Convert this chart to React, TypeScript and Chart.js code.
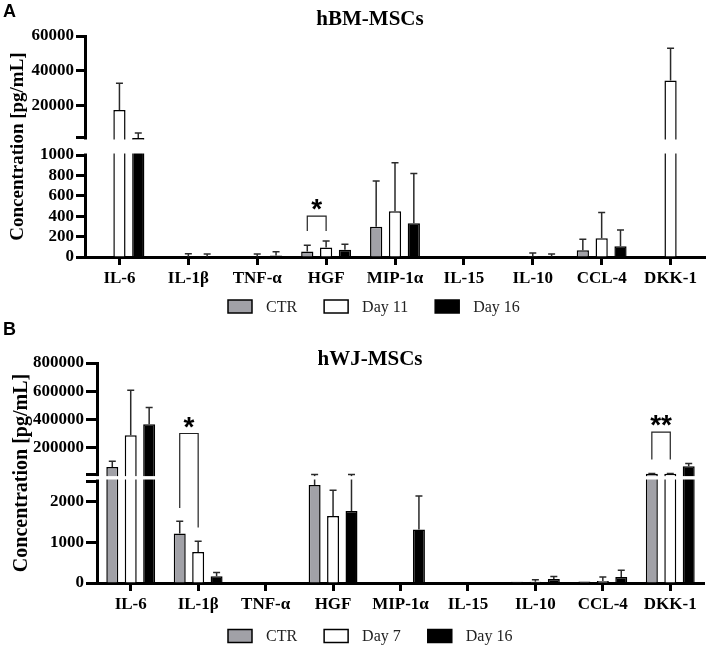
import React, { useEffect, useRef } from 'react';
import { Chart, registerables, LinearScale } from 'chart.js';

const cytokines = ['IL-6', 'IL-1β', 'TNF-α', 'HGF', 'MIP-1α', 'IL-15', 'IL-10', 'CCL-4', 'DKK-1'];

// panel A - hBM-MSCs
const bmCtr = [0, 0, 0, 53, 297, 0, 0, 67, 0];
const bmCtrSd = [0, 0, 0, 63, 448, 0, 0, 106, 0];
const bmDay11 = [17700, 3, 3, 92, 449, 0, 8, 183, 34500];
const bmDay11Sd = [15300, 28, 27, 66, 475, 0, 32, 253, 18500];
const bmDay16 = [1750, 3, 15, 72, 330, 0, 4, 106, 0];
const bmDay16Sd = [2800, 27, 37, 54, 489, 0, 26, 159, 0];
const bmTickValues = [0, 200, 400, 600, 800, 1000, 1700, 20000, 40000, 60000];
const bmTickLabels = ['0', '200', '400', '600', '800', '1000', '', '20000', '40000', '60000'];
const bmSig = [{ cat: 'HGF', from: 0, to: 1, top: 400, ends: [255, 255], mark: '*' }];

// panel B - hWJ-MSCs
const wjCtr = [62400, 1211, 0, 2400, 0, 0, 30, 35, 15000];
const wjCtrSd = [40400, 301, 0, 6600, 0, 0, 0, 0, 2000];
const wjDay7 = [287000, 760, 0, 1642, 0, 0, 30, 50, 15000];
const wjDay7Sd = [319000, 262, 0, 630, 0, 0, 50, 97, 2000];
const wjDay16 = [365000, 164, 0, 1765, 1309, 0, 100, 147, 67400];
const wjDay16Sd = [118700, 91, 0, 7235, 823, 0, 60, 164, 19100];
const wjTickValues = [0, 1000, 2000, 2500, 8500, 200000, 400000, 600000, 800000];
const wjTickLabels = ['0', '1000', '2000', '', '', '200000', '400000', '600000', '800000'];
const wjSig = [
  { cat: 'IL-1β', from: 0, to: 1, top: 300000, ends: [1840, 1360], mark: '*' },
  { cat: 'DKK-1', from: 0, to: 1, top: 310000, ends: [115000, 115000], mark: '**' },
];

const SERIF = '"Liberation Serif", "Times New Roman", serif';
const SANS = '"Liberation Sans", Arial, sans-serif';

// linear axis with a gap between lowMax and highMin
class BrokenScale extends LinearScale {
  static id = 'broken';
  static defaults = LinearScale.defaults;

  getPixelForValue(value: number) {
    if (value === null || value === undefined || isNaN(value)) return NaN;
    const o: any = this.options;
    let d;
    if (value <= o.lowMax) d = (value / o.lowMax) * o.lowFrac;
    else if (value >= o.highMin) d = o.highFrac + ((value - o.highMin) / (this.max - o.highMin)) * (1 - o.highFrac);
    else d = o.lowFrac + ((value - o.lowMax) / (o.highMin - o.lowMax)) * (o.highFrac - o.lowFrac);
    return this.getPixelForDecimal(d);
  }

  getValueForPixel(pixel: number) {
    const o: any = this.options;
    const d = this.getDecimalForPixel(pixel);
    if (d <= o.lowFrac) return (d / o.lowFrac) * o.lowMax;
    if (d >= o.highFrac) return o.highMin + ((d - o.highFrac) / (1 - o.highFrac)) * (this.max - o.highMin);
    return o.lowMax + ((d - o.lowFrac) / (o.highFrac - o.lowFrac)) * (o.highMin - o.lowMax);
  }
}

Chart.register(...registerables, BrokenScale);

interface PanelProps {
  letter: string;
  title: string;
  height: number;
  labels: string[];
  series: number[][];
  sds: number[][];
  tickValues: number[];
  tickLabels: string[];
  sig: { cat: string; from: number; to: number; top: number; ends: number[]; mark: string }[];
  max: number;
  lowMax: number;
  highMin: number;
  lowFrac: number;
  highFrac: number;
  axisWidth: number;
  tickLength: number;
  yTitleSize: number;
  yTitlePad: number;
  padding: { top: number; right: number; bottom: number; left: number };
  titleY: number;
  legendY: number;
}

const Panel: React.FC<PanelProps> = (p) => {
  const canvasRef = useRef<HTMLCanvasElement | null>(null);

  useEffect(() => {
    if (!canvasRef.current) return;

    const decor = {
      id: 'panelDecor',
      afterDatasetsDraw(chart: any) {
        const { ctx, chartArea } = chart;
        const y = chart.scales.y;
        ctx.save();
        // error bars (upper SD only)
        ctx.strokeStyle = '#2a2a2a';
        ctx.lineWidth = 1.5;
        chart.data.datasets.forEach((ds: any, di: number) => {
          const meta = chart.getDatasetMeta(di);
          meta.data.forEach((bar: any, i: number) => {
            const sd = p.sds[di][i];
            if (!sd) return;
            const v = ds.data[i];
            const yBar = y.getPixelForValue(v);
            const yTop = y.getPixelForValue(v + sd);
            ctx.beginPath();
            ctx.moveTo(bar.x, yBar);
            ctx.lineTo(bar.x, yTop);
            ctx.moveTo(bar.x - 3.5, yTop);
            ctx.lineTo(bar.x + 3.5, yTop);
            ctx.stroke();
          });
        });
        // axis break
        const yLow = y.getPixelForValue(p.lowMax);
        const yHigh = y.getPixelForValue(p.highMin);
        ctx.fillStyle = '#fff';
        ctx.fillRect(y.right - 6, yHigh + 1.5, chartArea.right - y.right + 8, yLow - yHigh - 3);
        // significance brackets
        ctx.strokeStyle = '#222';
        ctx.lineWidth = 1.2;
        ctx.fillStyle = '#000';
        ctx.font = `bold 28px ${SANS}`;
        ctx.textAlign = 'center';
        ctx.textBaseline = 'alphabetic';
        p.sig.forEach((s) => {
          const ci = p.labels.indexOf(s.cat);
          const x1 = chart.getDatasetMeta(s.from).data[ci].x;
          const x2 = chart.getDatasetMeta(s.to).data[ci].x;
          const yt = y.getPixelForValue(s.top);
          ctx.beginPath();
          ctx.moveTo(x1, y.getPixelForValue(s.ends[0]));
          ctx.lineTo(x1, yt);
          ctx.lineTo(x2, yt);
          ctx.lineTo(x2, y.getPixelForValue(s.ends[1]));
          ctx.stroke();
          ctx.fillText(s.mark, (x1 + x2) / 2, yt + 2);
        });
        ctx.restore();
      },
      afterDraw(chart: any) {
        const { ctx } = chart;
        ctx.save();
        ctx.fillStyle = '#000';
        ctx.textBaseline = 'middle';
        ctx.textAlign = 'left';
        ctx.font = `bold 18px ${SANS}`;
        ctx.fillText(p.letter, 3, 12);
        ctx.textAlign = 'center';
        ctx.font = `bold 21px ${SERIF}`;
        ctx.fillText(p.title, 370, p.titleY);
        // legend
        ctx.textAlign = 'left';
        ctx.font = `16px ${SERIF}`;
        ctx.lineWidth = 1.5;
        ctx.strokeStyle = '#000';
        let x = 228;
        chart.data.datasets.forEach((ds: any) => {
          ctx.fillStyle = ds.backgroundColor;
          ctx.fillRect(x, p.legendY - 6.5, 24, 13);
          ctx.strokeRect(x, p.legendY - 6.5, 24, 13);
          x += 24 + 14;
          ctx.fillStyle = '#222';
          ctx.fillText(ds.label, x, p.legendY + 1);
          x += ctx.measureText(ds.label).width + 27;
        });
        ctx.restore();
      },
    };

    const colors = ['#a1a1a7', '#ffffff', '#000000'];
    const names = ['CTR', p.title === 'hBM-MSCs' ? 'Day 11' : 'Day 7', 'Day 16'];

    const chart = new Chart(canvasRef.current, {
      type: 'bar',
      data: {
        labels: p.labels,
        datasets: p.series.map((s, i) => ({
          label: names[i],
          data: s,
          backgroundColor: colors[i],
          borderColor: '#000',
          borderWidth: 1.5,
          categoryPercentage: 0.82,
          barPercentage: 0.65,
        })),
      },
      options: {
        animation: false,
        responsive: false,
        layout: { padding: p.padding },
        font: { family: SERIF },
        plugins: {
          legend: { display: false },
          title: { display: false },
          tooltip: { enabled: false },
        },
        scales: {
          x: {
            type: 'category',
            offset: true,
            z: 1,
            border: { color: '#000', width: 3 },
            grid: { offset: false, drawOnChartArea: false, tickLength: 8, tickWidth: 3, tickColor: '#000' },
            ticks: { color: '#000', padding: 3, maxRotation: 0, autoSkip: false, font: { family: SERIF, size: 17, weight: 'bold' } },
            afterFit: (s: any) => { s.height = 32; },
          },
          y: {
            type: 'broken' as any,
            min: 0,
            max: p.max,
            lowMax: p.lowMax,
            highMin: p.highMin,
            lowFrac: p.lowFrac,
            highFrac: p.highFrac,
            border: { color: '#000', width: 3 },
            grid: { drawOnChartArea: false, tickLength: p.tickLength, tickWidth: 3, tickColor: '#000' },
            ticks: {
              color: '#000',
              padding: 2,
              autoSkip: false,
              font: { family: SERIF, size: 17, weight: 'bold' },
              callback: (_v: any, i: number) => p.tickLabels[i],
            },
            afterBuildTicks: (s: any) => { s.ticks = p.tickValues.map((v) => ({ value: v })); },
            title: {
              display: true,
              text: 'Concentration [pg/mL]',
              color: '#000',
              font: { family: SERIF, size: p.yTitleSize, weight: 'bold' },
              padding: { top: p.yTitlePad, bottom: 0 },
            },
            afterFit: (s: any) => { s.width = p.axisWidth; },
          } as any,
        },
      },
      plugins: [decor],
    });

    return () => {
      chart.destroy();
    };
  }, [p]);

  return <canvas ref={canvasRef} width={706} height={p.height} style={{ display: 'block' }} />;
};

const panelA: PanelProps = {
  letter: 'A',
  title: 'hBM-MSCs',
  height: 318,
  labels: cytokines,
  series: [bmCtr, bmDay11, bmDay16],
  sds: [bmCtrSd, bmDay11Sd, bmDay16Sd],
  tickValues: bmTickValues,
  tickLabels: bmTickLabels,
  sig: bmSig,
  max: 60000,
  lowMax: 1000,
  highMin: 1700,
  lowFrac: 0.4615,
  highFrac: 0.5385,
  axisWidth: 85,
  tickLength: 9,
  yTitleSize: 19,
  yTitlePad: 7,
  padding: { top: 36, right: 1, bottom: 29, left: 0 },
  titleY: 20,
  legendY: 306.5,
};

const panelB: PanelProps = {
  letter: 'B',
  title: 'hWJ-MSCs',
  height: 329,
  labels: cytokines,
  series: [wjCtr, wjDay7, wjDay16],
  sds: [wjCtrSd, wjDay7Sd, wjDay16Sd],
  tickValues: wjTickValues,
  tickLabels: wjTickLabels,
  sig: wjSig,
  max: 800000,
  lowMax: 2500,
  highMin: 8500,
  lowFrac: 0.4636,
  highFrac: 0.4927,
  axisWidth: 97,
  tickLength: 11,
  yTitleSize: 20,
  yTitlePad: 10,
  padding: { top: 45, right: 2, bottom: 32, left: 0 },
  titleY: 42,
  legendY: 318,
};

export default function App() {
  return (
    <div style={{ position: 'absolute', left: 0, top: 0, width: 706, height: 647, background: '#fff' }}>
      <Panel {...panelA} />
      <Panel {...panelB} />
    </div>
  );
}
